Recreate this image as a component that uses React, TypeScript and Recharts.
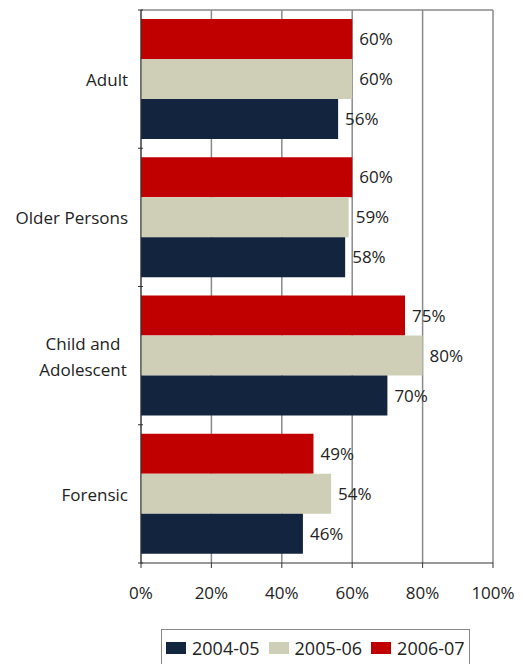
import React from "react";
import {
  BarChart,
  Bar,
  XAxis,
  YAxis,
  CartesianGrid,
  LabelList,
} from "recharts";

const categories = ["Adult", "Older Persons", "Child and Adolescent", "Forensic"];
const values0405 = [56, 58, 70, 46];
const values0506 = [60, 59, 80, 54];
const values0607 = [60, 60, 75, 49];
const xTicks = [0, 20, 40, 60, 80, 100];

const series = [
  { key: "y0405", name: "2004-05", color: "#13243E" },
  { key: "y0506", name: "2005-06", color: "#CFCFB7" },
  { key: "y0607", name: "2006-07", color: "#C00000" },
];

const data = categories.map((c, i) => ({
  name: c,
  y0405: values0405[i],
  y0506: values0506[i],
  y0607: values0607[i],
}));

const FONT = "'Open Sans', sans-serif";

function wrapLabel(label: string): string[] {
  if (label.length <= 14) return [label];
  const words = label.split(" ");
  const lines: string[] = [];
  let cur = "";
  words.forEach((w) => {
    const next = cur ? cur + " " + w : w;
    if (next.length > 10 && cur) {
      lines.push(cur);
      cur = w;
    } else {
      cur = next;
    }
  });
  if (cur) lines.push(cur);
  return lines;
}

function CategoryTick(props: any) {
  const { x, y, payload, index, visibleTicksCount } = props;
  const half = payload.offset || 0;
  const lines = wrapLabel(String(payload.value));
  const axisX = x + 8;
  const multi = lines.length > 1;
  const tx = multi ? axisX - 60 : axisX - 15;
  return (
    <g>
      <line x1={axisX - 5} x2={axisX} y1={y - half} y2={y - half} stroke="#333" />
      {index === visibleTicksCount - 1 && (
        <line x1={axisX - 5} x2={axisX} y1={y + half} y2={y + half} stroke="#333" />
      )}
      <text
        x={tx}
        y={y - ((lines.length - 1) * 26) / 2}
        textAnchor={multi ? "middle" : "end"}
        dominantBaseline="central"
        fontSize={17}
        fontFamily={FONT}
        fill="#222"
      >
        {lines.map((l, i) => (
          <tspan key={i} x={tx} dy={i === 0 ? 0 : 26}>
            {l}
          </tspan>
        ))}
      </text>
    </g>
  );
}

export default function App() {
  return (
    <div
      style={{
        position: "relative",
        width: 523,
        height: 664,
        overflow: "hidden",
        background: "#fff",
        fontFamily: FONT,
      }}
    >
      <style>{`body{margin:0}`}</style>
      <BarChart
        width={523}
        height={620}
        data={data}
        layout="vertical"
        margin={{ top: 10, right: 30, left: 0, bottom: 0 }}
        barGap={0}
        barCategoryGap={9}
      >
        <CartesianGrid
          stroke="#8a8a8a"
          strokeWidth={1.5}
          horizontalCoordinatesGenerator={({ offset }: any) => [offset.top]}
        />
        <XAxis
          type="number"
          domain={[0, 100]}
          ticks={xTicks}
          tickFormatter={(v) => v + "%"}
          height={57}
          tickSize={5}
          tickMargin={19}
          axisLine={{ stroke: "#333" }}
          tickLine={{ stroke: "#333" }}
          tick={{ fontSize: 17, fontFamily: FONT, fill: "#222" }}
        />
        <YAxis
          type="category"
          dataKey="name"
          width={141}
          axisLine={{ stroke: "#333" }}
          tickLine={false}
          tickMargin={0}
          tick={<CategoryTick />}
        />
        {[...series].reverse().map((s) => (
          <Bar
            key={s.key}
            dataKey={s.key}
            name={s.name}
            fill={s.color}
            isAnimationActive={false}
          >
            <LabelList
              dataKey={s.key}
              position="right"
              offset={7}
              formatter={(v: any) => v + "%"}
              style={{ fontSize: 17, fontFamily: FONT, fill: "#222" }}
            />
          </Bar>
        ))}
      </BarChart>
      <div
        style={{
          position: "absolute",
          left: 161,
          top: 629,
          width: 309,
          height: 40,
          border: "1px solid #888",
          display: "flex",
          alignItems: "flex-start",
          paddingTop: 8,
          boxSizing: "border-box",
          paddingLeft: 4,
          whiteSpace: "nowrap",
        }}
      >
        {series.map((s) => (
          <div
            key={s.key}
            style={{
              display: "flex",
              alignItems: "center",
              marginRight: 9,
              flexShrink: 0,
            }}
          >
            <span
              style={{
                display: "inline-block",
                width: 20,
                height: 12,
                background: s.color,
                marginRight: 6,
              }}
            />
            <span style={{ fontSize: 18, color: "#222", lineHeight: "20px" }}>
              {s.name}
            </span>
          </div>
        ))}
      </div>
    </div>
  );
}
